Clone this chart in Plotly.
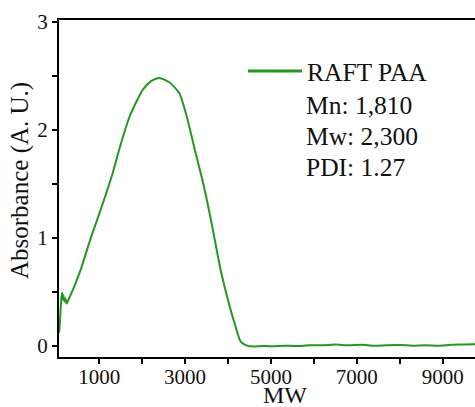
import plotly.graph_objects as go

# Data
mw = [63, 75, 100, 120, 135, 150, 165, 185, 210, 240, 300, 400, 565, 806, 1000,
      1300, 1475, 1706, 2014, 2208, 2400, 2632, 2863, 3040, 3211, 3442, 3634,
      3829, 4021, 4176, 4292, 4444, 4600, 4800, 5000, 5300, 5600, 5900, 6200,
      6500, 6800, 7100, 7400, 7700, 8000, 8300, 8600, 8900, 9200, 9500, 9753]
absorb = [0.12, 0.16, 0.33, 0.45, 0.49, 0.43, 0.47, 0.41, 0.44, 0.39, 0.44, 0.53, 0.70, 1.00, 1.22,
          1.58, 1.83, 2.12, 2.37, 2.45, 2.48, 2.44, 2.34, 2.12, 1.84, 1.47, 1.10,
          0.70, 0.39, 0.176, 0.04, 0.0, -0.008, -0.002, -0.006, 0.0, -0.004, 0.004, 0.003,
          0.01, 0.004, 0.008, 0.0, 0.004, 0.005, 0.0, 0.004, 0.0, 0.008, 0.01, 0.012]

series_name = "RAFT PAA"
stats_lines = ["Mn: 1,810", "Mw: 2,300", "PDI: 1.27"]
x_tickvals = [1000, 3000, 5000, 7000, 9000]
y_tickvals = [0, 1, 2, 3]
x_title = "MW"
y_title = "Absorbance (A. U.)"

GREEN = "#1f9a1f"
FONT = "Liberation Serif, Times New Roman, serif"
INK = "#111111"

L, T, W, H = 59, 20, 416, 337  # plot area in pixels


def px(xp):
    return (xp - L) / W


def py(yp):
    return (T + H - yp) / H


fig = go.Figure()
fig.add_trace(go.Scatter(x=mw, y=absorb, mode="lines",
                         line=dict(color=GREEN, width=2, shape="spline", smoothing=0.6),
                         name=series_name, showlegend=False))

# legend line sample + text
fig.add_shape(type="line", xref="paper", yref="paper",
              x0=px(248), x1=px(302), y0=py(71), y1=py(71),
              line=dict(color=GREEN, width=3))
fig.add_annotation(xref="paper", yref="paper", x=px(305), y=py(72.5),
                   text=series_name, showarrow=False, xanchor="left", yanchor="middle",
                   font=dict(family=FONT, size=25.5, color=INK))
for i, t in enumerate(stats_lines):
    fig.add_annotation(xref="paper", yref="paper", x=px(304),
                       y=py(105 + 31.5 * i),
                       text=t, showarrow=False, xanchor="left", yanchor="middle",
                       font=dict(family=FONT, size=25.5, color=INK))

# axis titles
fig.add_annotation(xref="paper", yref="paper", x=px(285), y=py(395),
                   text=x_title, showarrow=False, xanchor="center", yanchor="middle",
                   font=dict(family=FONT, size=24, color=INK))
fig.add_annotation(xref="paper", yref="paper", x=px(20), y=py(181),
                   text=y_title, showarrow=False, xanchor="center", yanchor="middle",
                   textangle=-90, font=dict(family=FONT, size=25, color=INK))

fig.update_layout(
    width=475, height=407,
    margin=dict(l=L, r=0, t=T, b=407 - T - H, pad=0),
    paper_bgcolor="white", plot_bgcolor="white",
    font=dict(family=FONT, size=21, color=INK),
    xaxis=dict(range=[63, 9753], tickvals=x_tickvals, ticktext=[str(v) for v in x_tickvals],
               automargin=False, ticklabelstandoff=-5,
               showgrid=False, zeroline=False, showline=True, linecolor="black",
               linewidth=2, mirror=True, ticks="outside", ticklen=5, tickwidth=2,
               tickcolor="black",
               minor=dict(tickvals=[2000, 4000, 6000, 8000], ticks="outside",
                          ticklen=5, tickwidth=2, tickcolor="black"),
               tickfont=dict(family=FONT, size=21, color=INK)),
    yaxis=dict(range=[-0.105, 3.016], tickvals=y_tickvals,
               automargin=False,
               showgrid=False, zeroline=False, showline=True, linecolor="black",
               linewidth=2, ticks="outside", ticklen=5, tickwidth=2,
               tickcolor="black",
               minor=dict(tickvals=[0.5, 1.5, 2.5], ticks="outside",
                          ticklen=5, tickwidth=2, tickcolor="black"),
               tickfont=dict(family=FONT, size=21, color=INK)),
)

fig.write_html("out.html", config={"displayModeBar": False},
               post_script="document.body.style.margin='0';document.body.style.overflow='hidden';")
